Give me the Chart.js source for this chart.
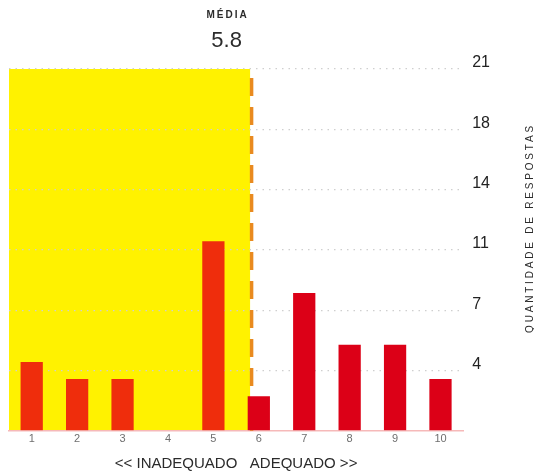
<!DOCTYPE html>
<html lang="pt">
<head>
<meta charset="utf-8">
<title>Quantidade de respostas</title>
<script src="https://cdn.jsdelivr.net/npm/chart.js@4.4.1/dist/chart.umd.min.js"></script>
<style>
    html, body { margin: 0; padding: 0; background: #ffffff; }
    #grafico-wrap { width: 534px; height: 474px; }
</style>
</head>
<body>
<div id="grafico-wrap"><canvas id="grafico-respostas" width="534" height="474"></canvas></div>
<script>
// Dados
var categorias = ["1", "2", "3", "4", "5", "6", "7", "8", "9", "10"];
var respostas = [4, 3, 3, 0, 11, 2, 8, 5, 5, 3];
var rotulosY = ["", "4", "7", "11", "14", "18", "21"];
var passoY = 3.5;
var maxY = 21;
var tituloX = "<< INADEQUADO   ADEQUADO >>";
var tituloY = "QUANTIDADE DE RESPOSTAS";
var rotuloMedia = "MÉDIA";

(function () {
    "use strict";

    var FONTE = '"Liberation Sans", Arial, Helvetica, sans-serif';
    var COR_AMARELO = "#fff200";
    var COR_BARRA_AMARELO = "#ef2d0c";
    var COR_BARRA = "#dc0017";
    var COR_LINHA_MEDIA = "#e98a1f";

    /** Media ponderada das notas (1..10) pelo numero de respostas. */
    function calcularMedia() {
        var soma = 0, total = 0;
        respostas.forEach(function (n, i) {
            soma += n * Number(categorias[i]);
            total += n;
        });
        return total ? soma / total : 0;
    }

    var media = calcularMedia();

    function xMedia(chart) {
        // a escala de categorias aceita indice fracionario
        return chart.scales.x.getPixelForValue(media - 1);
    }

    var pluginMedia = {
        id: "faixaMedia",
        beforeDraw: function (chart) {
            var area = chart.chartArea;
            var ctx = chart.ctx;
            var x = xMedia(chart);
            ctx.save();
            ctx.fillStyle = COR_AMARELO;
            ctx.fillRect(area.left, area.top, x - 1.5 - area.left, area.bottom - area.top);
            ctx.restore();
        },
        beforeDatasetsDraw: function (chart) {
            var area = chart.chartArea;
            var ctx = chart.ctx;
            var x = xMedia(chart);
            ctx.save();
            ctx.strokeStyle = COR_LINHA_MEDIA;
            ctx.lineWidth = 3.5;
            ctx.setLineDash([18, 11]);
            ctx.lineDashOffset = 20;
            ctx.beginPath();
            ctx.moveTo(x, area.top);
            ctx.lineTo(x, area.bottom);
            ctx.stroke();
            ctx.restore();
        },
        afterDraw: function (chart) {
            var ctx = chart.ctx;
            var x = xMedia(chart) - 25;
            ctx.save();
            ctx.fillStyle = "#2b2b2b";
            ctx.textAlign = "center";

            ctx.font = "bold 10px " + FONTE;
            ctx.letterSpacing = "2px";
            ctx.textBaseline = "middle";
            ctx.fillText(rotuloMedia, x + 1, 15.5);

            ctx.font = "22px " + FONTE;
            ctx.letterSpacing = "0px";
            ctx.textBaseline = "alphabetic";
            ctx.fillText(media.toFixed(1), x, 47);

            // titulo do eixo Y, lido de baixo para cima
            ctx.translate(530.5, 228);
            ctx.rotate(-Math.PI / 2);
            ctx.font = "10px " + FONTE;
            ctx.letterSpacing = "2.8px";
            ctx.textBaseline = "middle";
            ctx.fillText(tituloY, 0, 0);
            ctx.restore();
        }
    };

    Chart.defaults.font.family = FONTE;

    document.addEventListener("DOMContentLoaded", function () {
        var canvas = document.getElementById("grafico-respostas");
        new Chart(canvas.getContext("2d"), {
            type: "bar",
            data: {
                labels: categorias,
                datasets: [{
                    label: "Respostas",
                    data: respostas,
                    backgroundColor: function (c) {
                        return (c.dataIndex + 1) < media ? COR_BARRA_AMARELO : COR_BARRA;
                    },
                    categoryPercentage: 1,
                    barPercentage: 0.49,
                    borderWidth: 0
                }]
            },
            options: {
                responsive: false,
                animation: false,
                layout: { padding: { top: 69, left: 9, right: 35, bottom: 0 } },
                plugins: {
                    legend: { display: false },
                    tooltip: { enabled: false }
                },
                scales: {
                    x: {
                        grid: { display: false, drawTicks: false },
                        border: { display: true, color: "#f6b9b9", width: 1.5 },
                        ticks: { color: "#6f6f6f", font: { size: 11 }, padding: 2, maxRotation: 0 },
                        title: {
                            display: true,
                            text: tituloX,
                            color: "#2b2b2b",
                            font: { size: 15 },
                            padding: { top: 7, bottom: 1 }
                        }
                    },
                    y: {
                        position: "right",
                        min: 0,
                        max: maxY,
                        grid: {
                            drawTicks: false,
                            lineWidth: 1.3,
                            color: function (c) {
                                return c.tick && c.tick.value === 0 ? "rgba(0,0,0,0)" : "#cfcfcf";
                            }
                        },
                        border: { display: false, dash: [1.5, 5] },
                        ticks: {
                            stepSize: passoY,
                            padding: 9,
                            labelOffset: -6,
                            color: "#222222",
                            font: { size: 16 },
                            callback: function (valor, indice) {
                                return rotulosY[indice] !== undefined ? rotulosY[indice] : "";
                            }
                        }
                    }
                }
            },
            plugins: [pluginMedia]
        });
    });
})();
</script>
</body>
</html>
